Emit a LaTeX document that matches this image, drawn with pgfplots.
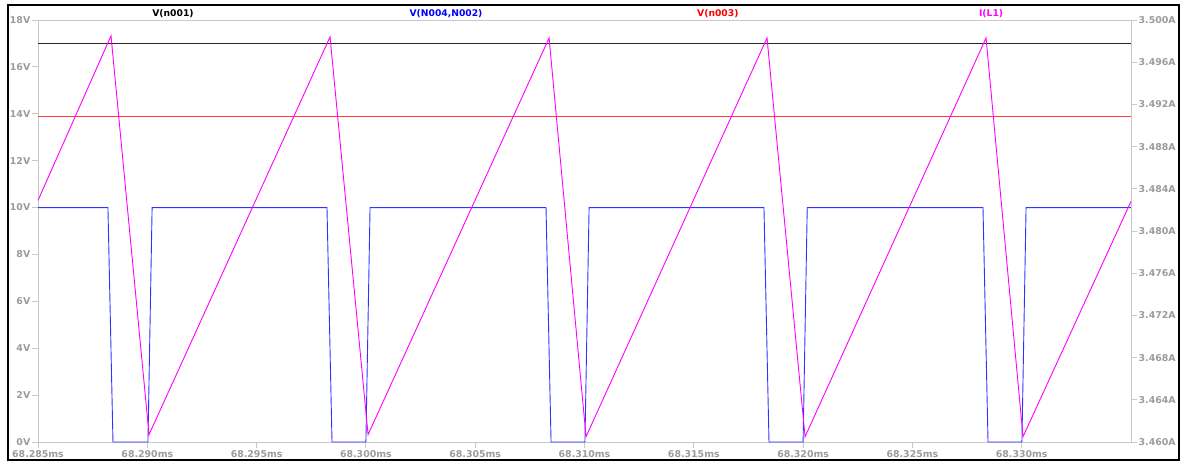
\documentclass[border=0pt]{standalone}
\usepackage{pgfplots}
\pgfplotsset{compat=1.18}
\usepackage{fontspec}
\setmainfont{DejaVu Sans}
\definecolor{axgray}{RGB}{200,200,200}
\definecolor{lblgray}{RGB}{155,155,155}
\definecolor{trblack}{RGB}{40,40,40}
\definecolor{trblue}{RGB}{50,50,255}
\definecolor{trred}{RGB}{255,60,60}
\definecolor{trmag}{RGB}{255,0,255}
\begin{document}
\begin{tikzpicture}
\pgfplotsset{
 ltstyle/.style={
  at={(38pt,21pt)}, anchor=south west, scale only axis,
  width=1093pt, height=422pt,
  xmin=0, xmax=50, clip=false,
  axis line style={axgray, line width=0.8pt},
  tick style={axgray, line width=0.8pt},
  tick align=outside, major tick length=6pt,
  tick label style={font=\bfseries\fontsize{9.4}{10}\selectfont, text=lblgray, inner sep=1.5pt},
 }
}
\begin{axis}[ltstyle, ymin=0, ymax=18, tick pos=left,
  xtick={0,5,10,15,20,25,30,35,40,45},
  xticklabels={68.285ms,68.290ms,68.295ms,68.300ms,68.305ms,68.310ms,68.315ms,68.320ms,68.325ms,68.330ms},
  xticklabel style={yshift=-0.8pt},
  ytick={0,2,4,6,8,10,12,14,16,18},
  yticklabels={0V,2V,4V,6V,8V,10V,12V,14V,16V,18V},
  yticklabel style={anchor=east},
]
% V(n001)
\addplot[trblack, line width=0.9pt] coordinates {(0,16.98) (50,16.98)};
% V(N004,N002)
\addplot[trblue, line width=0.9pt] coordinates {
 (0,10) (3.20,10) (3.43,0) (5.03,0) (5.22,10)
 (13.22,10) (13.45,0) (15.00,0) (15.19,10)
 (23.24,10) (23.47,0) (25.02,0) (25.21,10)
 (33.21,10) (33.44,0) (35.00,0) (35.19,10)
 (43.23,10) (43.46,0) (45.01,0) (45.20,10)
 (50,10)};
% V(n003)
\addplot[trred, line width=0.9pt] coordinates {(0,13.9) (50,13.9)};
\node[font=\bfseries\fontsize{9.2}{10}\selectfont, text=black, anchor=base, yshift=3.5pt] at (rel axis cs:0.1235,1) {V(n001)};
\node[font=\bfseries\fontsize{9.2}{10}\selectfont, text=blue, anchor=base, yshift=3.5pt] at (rel axis cs:0.3733,1) {V(N004,N002)};
\node[font=\bfseries\fontsize{9.2}{10}\selectfont, text=red, anchor=base, yshift=3.5pt] at (rel axis cs:0.622,1) {V(n003)};
\node[font=\bfseries\fontsize{9.2}{10}\selectfont, text=trmag, anchor=base, yshift=3.5pt] at (rel axis cs:0.872,1) {I(L1)};
\end{axis}
\begin{axis}[ltstyle, ymin=3.460, ymax=3.500, hide x axis, axis y line*=right,
  ytick={3.460,3.464,3.468,3.472,3.476,3.480,3.484,3.488,3.492,3.496,3.500},
  yticklabels={3.460A,3.464A,3.468A,3.472A,3.476A,3.480A,3.484A,3.488A,3.492A,3.496A,3.500A},
  yticklabel style={anchor=west},
]
% I(L1)
\addplot[trmag, line width=0.9pt] coordinates {
 (0,3.4829) (3.34,3.4985) (5.08,3.4607)
 (13.36,3.4984) (15.10,3.4607)
 (23.38,3.4983) (25.07,3.4605)
 (33.35,3.4983) (35.09,3.4605)
 (43.37,3.4983) (45.06,3.4605)
 (50,3.4828)};
\end{axis}
\draw[black, line width=2.5pt] (8pt,3pt) rectangle (1179pt,458pt);
\pgfresetboundingbox
\path[use as bounding box] (0,0) rectangle (1184pt,463pt);
\end{tikzpicture}
\end{document}
